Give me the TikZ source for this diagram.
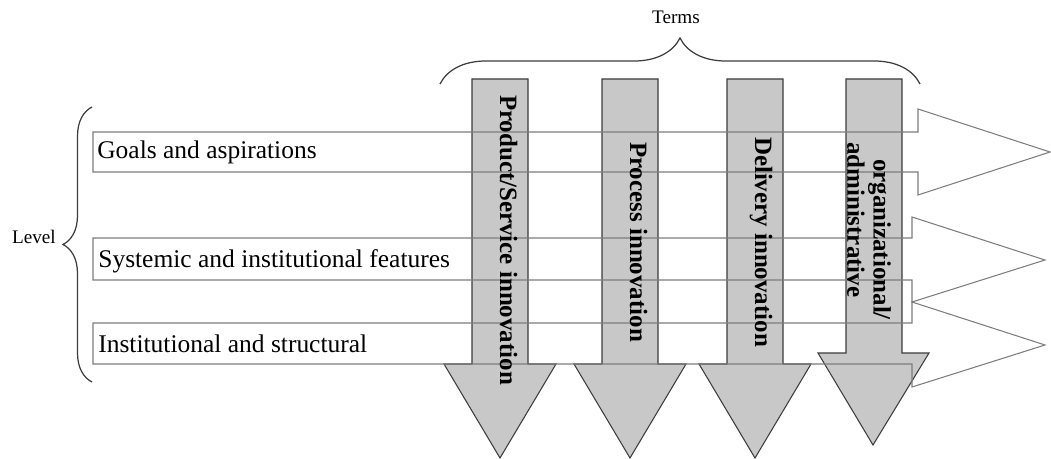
\documentclass[tikz,border=0pt]{standalone}
\usepackage{fontspec}
\setmainfont{Liberation Serif}
\usetikzlibrary{decorations.pathreplacing}
\definecolor{barfill}{RGB}{200,200,200}
\definecolor{barline}{RGB}{60,60,60}
\definecolor{levline}{RGB}{125,125,125}

\begin{document}
\begin{tikzpicture}[x=0.02cm, y=-0.02cm,
  bar/.style={fill=barfill, draw=barline, line width=0.6pt},
  lev/.style={draw=levline, line width=0.6pt},
  levtext/.style={anchor=base west, inner sep=0pt, font=\fontsize{14.5}{17}\selectfont},
  bartext/.style={rotate=-90, inner sep=0pt, font=\fontsize{14.2}{15}\selectfont\bfseries},
  bracetext/.style={anchor=base, inner sep=0pt, font=\fontsize{10.9}{13}\selectfont},
  bracket/.style={draw=barline, line width=0.7pt, decorate}]
\useasboundingbox (0,0) rectangle (1051,459);

% 縦の矢印(座標で配置)
\draw[bar] (472,79) -- (528,79) -- (528,364) -- (556,364) -- (500,458) -- (444,364) -- (472,364) -- cycle;
\draw[bar] (602,79) -- (658,79) -- (658,364) -- (686,364) -- (630,458) -- (574,364) -- (602,364) -- cycle;
\draw[bar] (727,79) -- (783,79) -- (783,364) -- (811,364) -- (755,458) -- (699,364) -- (727,364) -- cycle;
\draw[bar] (846,79) -- (902,79) -- (902,353) -- (929,353) -- (873,445) -- (818,353) -- (846,353) -- cycle;

% 横の矢印
\draw[lev] (93,132) -- (918,132) -- (918,109) -- (1050,152) -- (918,195) -- (918,172) -- (93,172) -- cycle;
\draw[lev] (93,238) -- (912,238) -- (912,217) -- (1045,260) -- (912,302) -- (912,280) -- (93,280) -- cycle;
\draw[lev] (93,323) -- (912,323) -- (912,302) -- (1045,345) -- (912,387) -- (912,364) -- (93,364) -- cycle;

% 括弧
\draw[bracket, decoration={brace, amplitude=0.92cm}] (440,84) -- (920,84);
\draw[bracket, decoration={brace, amplitude=0.58cm}] (92,382) -- (92,107);

% ラベル
\node[bracetext] (terms)    at (676,24)  {Terms};
\node[bracetext] (level)    at (34,243)  {Level};
\node[levtext]   (goals)    at (97,159)  {Goals and aspirations};
\node[levtext]   (systemic) at (98,267)  {Systemic and institutional features};
\node[levtext]   (instit)   at (98,352)  {Institutional and structural};
\node[bartext, anchor=base] (prod)  at (500,240) {Product/Service innovation};
\node[bartext, anchor=base] (proc)  at (630,242) {Process innovation};
\node[bartext, anchor=base] (deliv) at (755,242) {Delivery innovation};
\node[bartext, align=left] (org)    at (869,231) {\hspace*{9.7pt}organizational/\\administrative};
\end{tikzpicture}
\end{document}
